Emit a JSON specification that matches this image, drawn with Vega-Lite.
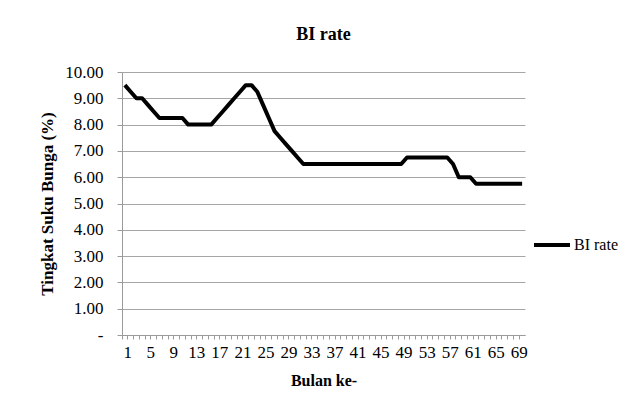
{
  "$schema": "https://vega.github.io/schema/vega-lite/v6.json",
  "width": 403,
  "height": 263,
  "autosize": {"type": "none"},
  "padding": {"left": 122, "top": 72, "right": 105, "bottom": 77},
  "background": "white",
  "title": {
    "text": "BI rate",
    "font": "Liberation Serif",
    "fontSize": 18,
    "fontWeight": "bold",
    "color": "black",
    "anchor": "middle",
    "baseline": "alphabetic",
    "offset": 5
  },
  "config": {
    "view": {"stroke": null},
    "font": "Liberation Serif",
    "style": {
      "guide-label": {"font": "Liberation Serif"},
      "guide-title": {"font": "Liberation Serif"}
    },
    "axis": {"labelFont": "Liberation Serif", "titleFont": "Liberation Serif"},
    "legend": {"labelFont": "Liberation Serif"}
  },
  "data": {
    "values": [
      {"month": 1, "rate": 9.5, "series": "BI rate"},
      {"month": 2, "rate": 9.25, "series": "BI rate"},
      {"month": 3, "rate": 9.0, "series": "BI rate"},
      {"month": 4, "rate": 9.0, "series": "BI rate"},
      {"month": 5, "rate": 8.75, "series": "BI rate"},
      {"month": 6, "rate": 8.5, "series": "BI rate"},
      {"month": 7, "rate": 8.25, "series": "BI rate"},
      {"month": 8, "rate": 8.25, "series": "BI rate"},
      {"month": 9, "rate": 8.25, "series": "BI rate"},
      {"month": 10, "rate": 8.25, "series": "BI rate"},
      {"month": 11, "rate": 8.25, "series": "BI rate"},
      {"month": 12, "rate": 8.0, "series": "BI rate"},
      {"month": 13, "rate": 8.0, "series": "BI rate"},
      {"month": 14, "rate": 8.0, "series": "BI rate"},
      {"month": 15, "rate": 8.0, "series": "BI rate"},
      {"month": 16, "rate": 8.0, "series": "BI rate"},
      {"month": 17, "rate": 8.25, "series": "BI rate"},
      {"month": 18, "rate": 8.5, "series": "BI rate"},
      {"month": 19, "rate": 8.75, "series": "BI rate"},
      {"month": 20, "rate": 9.0, "series": "BI rate"},
      {"month": 21, "rate": 9.25, "series": "BI rate"},
      {"month": 22, "rate": 9.5, "series": "BI rate"},
      {"month": 23, "rate": 9.5, "series": "BI rate"},
      {"month": 24, "rate": 9.25, "series": "BI rate"},
      {"month": 25, "rate": 8.75, "series": "BI rate"},
      {"month": 26, "rate": 8.25, "series": "BI rate"},
      {"month": 27, "rate": 7.75, "series": "BI rate"},
      {"month": 28, "rate": 7.5, "series": "BI rate"},
      {"month": 29, "rate": 7.25, "series": "BI rate"},
      {"month": 30, "rate": 7.0, "series": "BI rate"},
      {"month": 31, "rate": 6.75, "series": "BI rate"},
      {"month": 32, "rate": 6.5, "series": "BI rate"},
      {"month": 33, "rate": 6.5, "series": "BI rate"},
      {"month": 34, "rate": 6.5, "series": "BI rate"},
      {"month": 35, "rate": 6.5, "series": "BI rate"},
      {"month": 36, "rate": 6.5, "series": "BI rate"},
      {"month": 37, "rate": 6.5, "series": "BI rate"},
      {"month": 38, "rate": 6.5, "series": "BI rate"},
      {"month": 39, "rate": 6.5, "series": "BI rate"},
      {"month": 40, "rate": 6.5, "series": "BI rate"},
      {"month": 41, "rate": 6.5, "series": "BI rate"},
      {"month": 42, "rate": 6.5, "series": "BI rate"},
      {"month": 43, "rate": 6.5, "series": "BI rate"},
      {"month": 44, "rate": 6.5, "series": "BI rate"},
      {"month": 45, "rate": 6.5, "series": "BI rate"},
      {"month": 46, "rate": 6.5, "series": "BI rate"},
      {"month": 47, "rate": 6.5, "series": "BI rate"},
      {"month": 48, "rate": 6.5, "series": "BI rate"},
      {"month": 49, "rate": 6.5, "series": "BI rate"},
      {"month": 50, "rate": 6.75, "series": "BI rate"},
      {"month": 51, "rate": 6.75, "series": "BI rate"},
      {"month": 52, "rate": 6.75, "series": "BI rate"},
      {"month": 53, "rate": 6.75, "series": "BI rate"},
      {"month": 54, "rate": 6.75, "series": "BI rate"},
      {"month": 55, "rate": 6.75, "series": "BI rate"},
      {"month": 56, "rate": 6.75, "series": "BI rate"},
      {"month": 57, "rate": 6.75, "series": "BI rate"},
      {"month": 58, "rate": 6.5, "series": "BI rate"},
      {"month": 59, "rate": 6.0, "series": "BI rate"},
      {"month": 60, "rate": 6.0, "series": "BI rate"},
      {"month": 61, "rate": 6.0, "series": "BI rate"},
      {"month": 62, "rate": 5.75, "series": "BI rate"},
      {"month": 63, "rate": 5.75, "series": "BI rate"},
      {"month": 64, "rate": 5.75, "series": "BI rate"},
      {"month": 65, "rate": 5.75, "series": "BI rate"},
      {"month": 66, "rate": 5.75, "series": "BI rate"},
      {"month": 67, "rate": 5.75, "series": "BI rate"},
      {"month": 68, "rate": 5.75, "series": "BI rate"},
      {"month": 69, "rate": 5.75, "series": "BI rate"},
      {"month": 70, "rate": 5.75, "series": "BI rate"}
    ]
  },
  "mark": {"type": "line", "strokeWidth": 4, "strokeJoin": "round", "strokeCap": "butt"},
  "encoding": {
    "x": {
      "field": "month",
      "type": "ordinal",
      "sort": null,
      "scale": {"type": "band", "paddingInner": 0, "paddingOuter": 0},
      "axis": {
        "title": "Bulan ke-",
        "titleFontSize": 16,
        "titleFontWeight": "bold",
        "titleColor": "black",
        "titleY": 45,
        "titleBaseline": "middle",
        "labelAngle": 0,
        "labelFontSize": 17,
        "labelColor": "black",
        "labelOverlap": false,
        "labelExpr": "(datum.value - 1) % 4 == 0 ? datum.label : ''",
        "bandPosition": 0,
        "labelOffset": 2.88,
        "labelPadding": 5,
        "tickSize": 4,
        "tickColor": "#9a9a9a",
        "domainColor": "#9a9a9a",
        "grid": false
      }
    },
    "y": {
      "field": "rate",
      "type": "quantitative",
      "scale": {"domain": [0, 10], "nice": false, "zero": true},
      "axis": {
        "title": "Tingkat Suku Bunga (%)",
        "titleFontSize": 17,
        "titleFontWeight": "bold",
        "titleColor": "black",
        "titleX": -75,
        "titleY": 131.5,
        "titleBaseline": "middle",
        "values": [0, 1, 2, 3, 4, 5, 6, 7, 8, 9, 10],
        "labelExpr": "datum.value == 0 ? '-' : format(datum.value, '.2f')",
        "labelFontSize": 17,
        "labelColor": "black",
        "labelPadding": 14,
        "tickSize": 5,
        "tickColor": "#9a9a9a",
        "domainColor": "#9a9a9a",
        "grid": true,
        "gridColor": "#a6a6a6",
        "gridWidth": 1
      }
    },
    "color": {
      "field": "series",
      "type": "nominal",
      "scale": {"range": ["black"]},
      "legend": {
        "title": null,
        "orient": "none",
        "legendX": 410,
        "legendY": 153,
        "symbolType": "stroke",
        "symbolStrokeWidth": 4,
        "symbolSize": 1296,
        "labelFontSize": 16,
        "labelColor": "black",
        "labelOffset": 2
      }
    }
  }
}
